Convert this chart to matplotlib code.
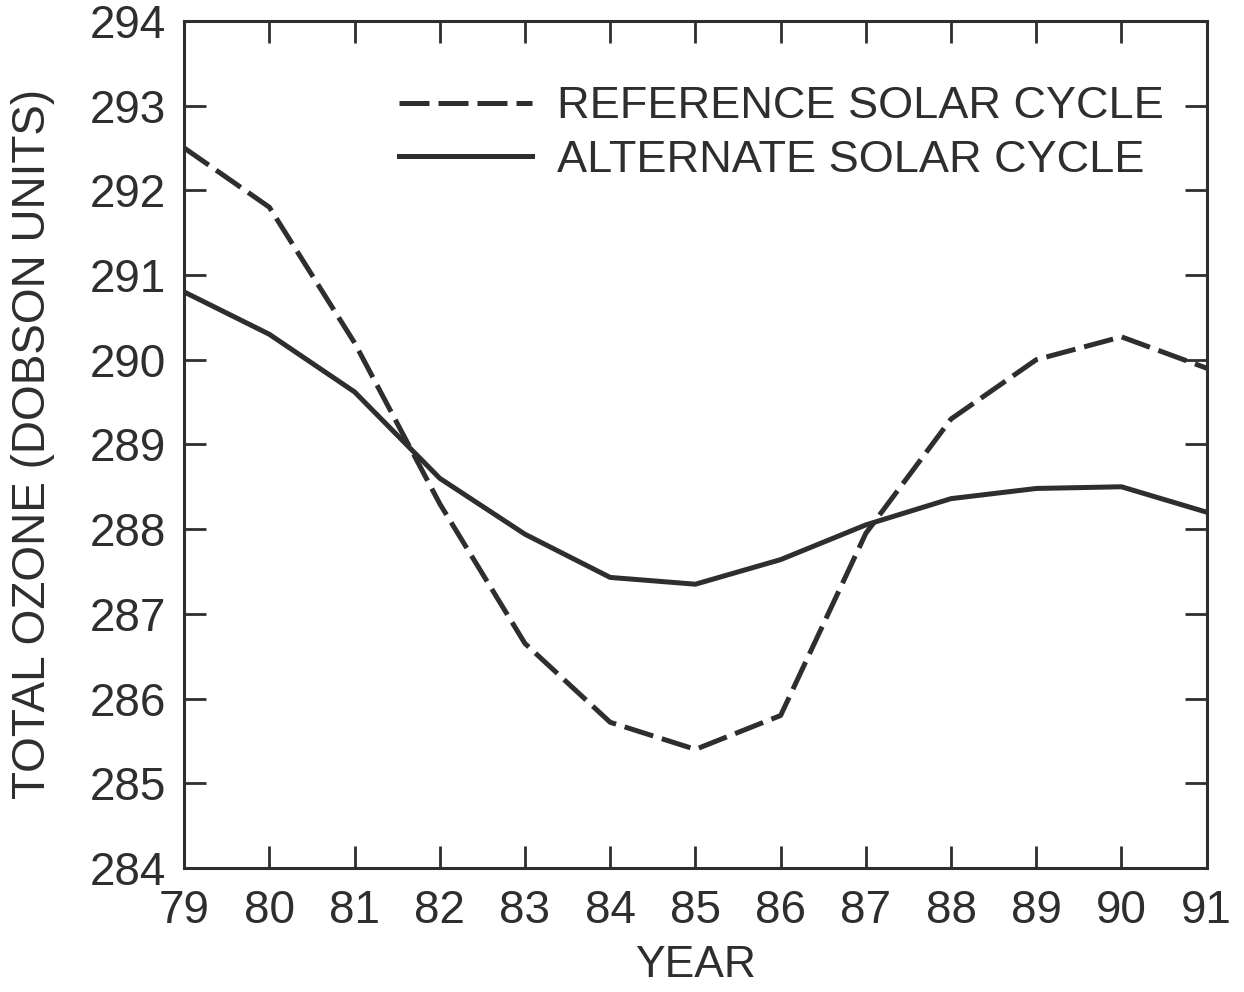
import matplotlib
matplotlib.use("Agg")
import matplotlib.pyplot as plt

# Data
years = [79, 80, 81, 82, 83, 84, 85, 86, 87, 88, 89, 90, 91]
reference_cycle = [292.5, 291.8, 290.2, 288.3, 286.65, 285.72, 285.4, 285.8,
                   287.95, 289.3, 290.0, 290.27, 289.9]
alternate_cycle = [290.8, 290.3, 289.62, 288.6, 287.94, 287.43, 287.35, 287.64,
                   288.05, 288.36, 288.48, 288.5, 288.2]
ytick_vals = [284, 285, 286, 287, 288, 289, 290, 291, 292, 293, 294]

ink = '#2e2e2e'
plt.rcParams['font.family'] = ['Liberation Sans', 'DejaVu Sans']
plt.rcParams['text.color'] = ink

fig = plt.figure(figsize=(12.44, 9.92), dpi=100)
ax = fig.add_axes([0.148, 0.125, 0.822, 0.854])

ax.plot(years, reference_cycle, color=ink, lw=3.6, dashes=(6, 1.8),
        label='REFERENCE SOLAR CYCLE')
ax.plot(years, alternate_cycle, color=ink, lw=3.6, label='ALTERNATE SOLAR CYCLE')

ax.set_xlim(79, 91)
ax.set_ylim(284, 294)
ax.set_xticks(years)
ax.set_xticklabels([str(y) for y in years])
ax.set_yticks(ytick_vals)
ax.tick_params(direction='in', length=16, width=2, color=ink, labelcolor=ink,
               labelsize=33, top=True, right=True)
ax.tick_params(axis='x', pad=15)
ax.tick_params(axis='y', pad=13)
for s in ax.spines.values():
    s.set_linewidth(2.2)
    s.set_color(ink)

ax.set_xlabel('YEAR', fontsize=32, color=ink, labelpad=9)
ax.set_ylabel('TOTAL OZONE (DOBSON UNITS)', fontsize=33, color=ink, labelpad=25)

leg = ax.legend(loc='upper right', frameon=False, fontsize=32.5, handlelength=2.95,
                handletextpad=0.55, labelspacing=0.28, borderaxespad=0,
                bbox_to_anchor=(0.9755, 0.944))

fig.savefig('out.png', dpi=100)
